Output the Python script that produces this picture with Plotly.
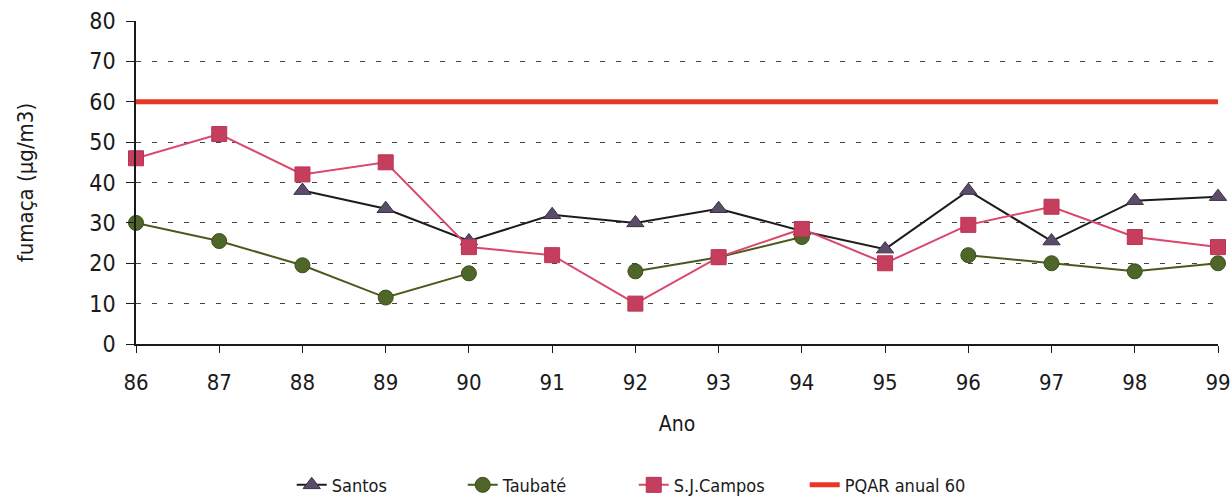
import plotly.graph_objects as go

# Annual smoke concentration by monitoring station
anos = [86, 87, 88, 89, 90, 91, 92, 93, 94, 95, 96, 97, 98, 99]
santos = [None, None, 38, 33.5, 25.5, 32, 30, 33.5, 28, 23.5, 38, 25.5, 35.5, 36.5]
taubate = [30, 25.5, 19.5, 11.5, 17.5, None, 18, 21.5, 26.5, None, 22, 20, 18, 20]
sj_campos = [46, 52, 42, 45, 24, 22, 10, 21.5, 28.5, 20, 29.5, 34, 26.5, 24]
pqar = [60] * len(anos)

y_ticks = [0, 10, 20, 30, 40, 50, 60, 70, 80]
x_labels = [str(a) for a in anos]

FONT = "Liberation Sans Narrow, DejaVu Sans Condensed, Roboto Condensed, Roboto, sans-serif"
INK = "#1a1a1a"

fig = go.Figure()

fig.add_trace(go.Scatter(
    x=anos, y=santos, name="Santos", mode="lines+markers",
    line=dict(color="#1c1c1c", width=2),
    marker=dict(symbol="triangle-up", size=15, color="#5b4c69",
                line=dict(color="#3a3044", width=1)),
    cliponaxis=False, connectgaps=False,
))
fig.add_trace(go.Scatter(
    x=anos, y=taubate, name="Taubaté", mode="lines+markers",
    line=dict(color="#4a5a1c", width=2),
    marker=dict(symbol="circle", size=15, color="#4f6629",
                line=dict(color="#3b4d1c", width=1)),
    cliponaxis=False, connectgaps=False,
))
fig.add_trace(go.Scatter(
    x=anos, y=sj_campos, name="S.J.Campos", mode="lines+markers",
    line=dict(color="#d9486c", width=2),
    marker=dict(symbol="square", size=15, color="#c53e5e",
                line=dict(color="#b83556", width=1)),
    cliponaxis=False, connectgaps=False,
))
fig.add_trace(go.Scatter(
    x=anos, y=pqar, name="PQAR anual 60", mode="lines",
    line=dict(color="#ec3526", width=5),
    cliponaxis=False,
))

fig.update_layout(
    width=1230, height=496,
    margin=dict(l=136, r=12, t=21, b=152, autoexpand=False),
    paper_bgcolor="white", plot_bgcolor="white",
    font=dict(family=FONT, color=INK),
    showlegend=True,
    legend=dict(
        orientation="h", x=0.46, xanchor="center", y=-0.437, yanchor="middle",
        font=dict(size=18, family=FONT, color=INK),
        entrywidth=126, entrywidthmode="pixels", tracegroupgap=0,
    ),
)

fig.update_xaxes(
    range=[86, 99], tickmode="array", tickvals=anos, ticktext=x_labels,
    automargin=False, ticklabeloverflow="allow",
    showgrid=False, zeroline=False,
    showline=True, linecolor=INK, linewidth=1.5,
    ticks="outside", ticklen=7, tickcolor=INK, tickwidth=1,
    ticklabelstandoff=11,
    tickfont=dict(size=22, family=FONT, color=INK),
    title=dict(text="Ano", font=dict(size=21, family=FONT, color=INK), standoff=22),
)

fig.update_yaxes(
    range=[0, 80], tickmode="array", tickvals=y_ticks,
    automargin=False, ticklabeloverflow="allow",
    showgrid=True, gridcolor="#444444", gridwidth=1, griddash="5px,11px",
    zeroline=False,
    showline=True, linecolor=INK, linewidth=1.5,
    ticks="outside", ticklen=8, tickcolor=INK, tickwidth=1,
    ticklabelstandoff=6,
    tickfont=dict(size=23, family=FONT, color=INK),
    title=dict(text="fumaça (µg/m3)", font=dict(size=22, family=FONT, color=INK), standoff=50),
)

fig.write_html("out.html")
